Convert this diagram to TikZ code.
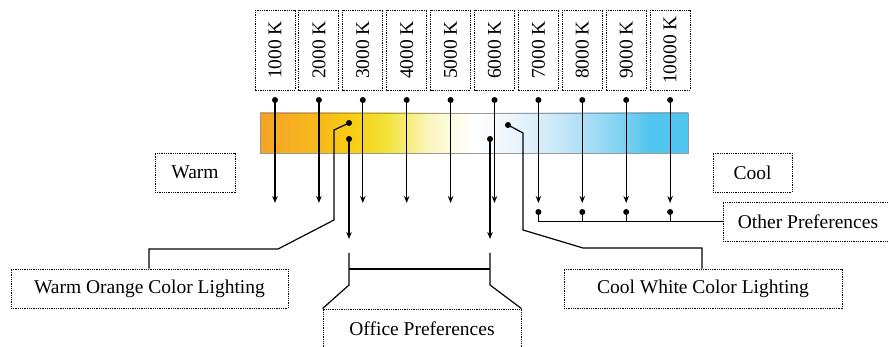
\documentclass[tikz,border=0pt]{standalone}
\usepackage{fontspec}
\setmainfont{Liberation Serif}
\usetikzlibrary{arrows.meta}

% colour-temperature ramp, warm to cool
\definecolor{tOrange}{RGB}{245,163,36}
\definecolor{tAmber}{RGB}{247,186,28}
\definecolor{tGold}{RGB}{248,204,18}
\definecolor{tYellow}{RGB}{242,226,52}
\definecolor{tPale}{RGB}{251,246,195}
\definecolor{tWhite}{RGB}{255,255,255}
\definecolor{tIce}{RGB}{236,246,252}
\definecolor{tSky}{RGB}{200,232,248}
\definecolor{tBlue}{RGB}{128,210,242}
\definecolor{tDeep}{RGB}{80,198,240}
\pgfdeclarehorizontalshading{tempbar}{100bp}{%
  color(0bp)=(tOrange); color(25bp)=(tOrange); color(32bp)=(tAmber);
  color(35.5bp)=(tGold); color(39.6bp)=(tYellow); color(44.9bp)=(tPale);
  color(50.1bp)=(tWhite); color(54.2bp)=(tIce); color(60bp)=(tSky);
  color(67.1bp)=(tBlue); color(70.6bp)=(tDeep); color(75bp)=(tDeep);
  color(100bp)=(tDeep)}

\tikzset{
  lbl/.style={draw, dash pattern=on 0.9pt off 0.9pt, line width=0.9pt,
    font=\fontsize{19.5}{22}\selectfont, inner sep=0pt, align=center},
  tbox/.style={lbl, rotate=90, minimum width=80pt, minimum height=40pt},
  wire/.style={line width=1.2pt},
  arr/.style={wire, -{Stealth[length=7pt,width=5.5pt]}},
  dot/.style={circle, fill=black, inner sep=0pt, minimum size=6pt},
}

\begin{document}
\begin{tikzpicture}[x=1pt, y=-1pt]
\useasboundingbox (0,0) rectangle (888,347);

% gradient bar
\shade[shading=tempbar, draw=gray!80, line width=0.8pt] (260,113) rectangle (688,153);

% temperature labels, their dots and arrows
\foreach \t [count=\i from 0] in {1000,2000,3000,4000,5000,6000,7000,8000,9000,10000}{
  \node[tbox] (t\i) at ({275+43.9*\i},50) {\t\ K};
  \node[dot] (d\i) at ({275+43.9*\i},100) {};
  \coordinate (e\i) at ({275+43.9*\i},203);
  \draw[arr] (d\i.center) -- (e\i);
}

% side labels
\node[lbl, minimum width=80pt, minimum height=39pt] (warm) at (195,172.5) {Warm};
\node[lbl, minimum width=79pt, minimum height=39pt] (cool) at (752.5,172.5) {Cool};
\node[lbl, minimum width=277pt, minimum height=39pt] (wocl) at (149.5,288.5) {Warm Orange Color Lighting};
\node[lbl, minimum width=278pt, minimum height=39pt] (cwcl) at (703,288.5) {Cool White Color Lighting};
\node[lbl, minimum width=198pt, minimum height=40pt] (office) at (422,329) {Office Preferences};
\node[lbl, minimum width=170pt, minimum height=39pt] (other) at (808,221.5) {Other Preferences};

% other preferences: 7000 K to 10000 K
\foreach \i in {6,...,9}{
  \node[dot] (p\i) at ({275+43.9*\i},212) {};
}
\draw[wire] (p6.center) |- (other.west);
\foreach \i in {7,8,9}{
  \draw[wire] (p\i.center) -- (p\i.center |- other.west);
}

% warm orange lighting
\node[dot] (wa) at (349,123) {};
\draw[wire] (wa.center) -- (334,130) -- (334,220) -- (278,249) -- (149,249) -- (wocl.north -| 149,0);

% office range
\node[dot] (oa) at (349,139) {};
\node[dot] (ob) at (490,139) {};
\coordinate (oa2) at (349,239);
\coordinate (ob2) at (490,239);
\draw[arr] (oa.center) -- (oa2);
\draw[arr] (ob.center) -- (ob2);
\draw[wire] (349,253) -- (349,285) -- (office.north west);
\draw[wire] (490,253) -- (490,285) -- (office.north east);
\draw[wire] (349,269) -- (490,269);

% cool white lighting
\node[dot] (ca) at (508,125) {};
\draw[wire] (ca.center) -- (523,133) -- (523,230) -- (583,248) -- (702,248) -- (cwcl.north -| 702,0);
\end{tikzpicture}
\end{document}
